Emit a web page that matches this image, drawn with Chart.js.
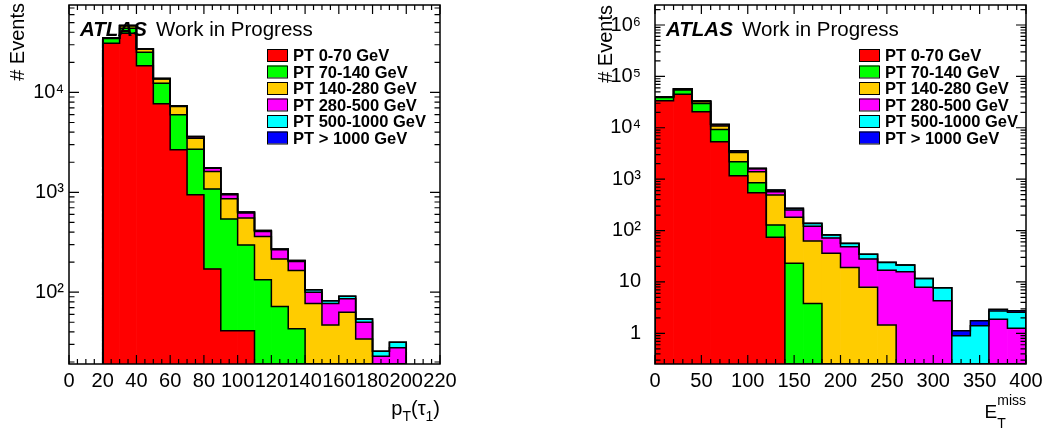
<!DOCTYPE html>
<html lang="en">
<head>
<meta charset="UTF-8">
<title>Tau pT and MET by sample</title>
<style>
  body { margin: 0; background: #fff; }
  .wrap { position: relative; width: 1046px; height: 430px; }
  canvas { position: absolute; top: 0; }
  #ptChart { left: 0; }
  #metChart { left: 523px; }
</style>
</head>
<body>
<div class="wrap">
  <canvas id="ptChart" width="523" height="430"></canvas>
  <canvas id="metChart" width="523" height="430"></canvas>
</div>
<script src="https://cdn.jsdelivr.net/npm/chart.js"></script>
<script>
// samples (pT slices) and their fill colours
const samples = ['PT 0-70 GeV', 'PT 70-140 GeV', 'PT 140-280 GeV', 'PT 280-500 GeV', 'PT 500-1000 GeV', 'PT > 1000 GeV'];
const sampleColors = ['#ff0000', '#00ff00', '#ffcc00', '#ff00ff', '#00ffff', '#0000ff'];

// leading tau pT, 10 GeV bins from 20 to 200
const tauEdges = [20, 30, 40, 50, 60, 70, 80, 90, 100, 110, 120, 130, 140, 150, 160, 170, 180, 190, 200];
const tauPt0to70     = [31000, 39000, 18500, 7680, 2660, 944, 171, 41, 41, 0, 0, 0, 0, 0, 0, 0, 0, 0];
const tauPt70to140   = [3600, 5000, 6700, 4700, 3300, 1760, 906, 499, 256, 133, 72, 43, 0, 0, 0, 0, 0, 0];
const tauPt140to280  = [300, 2500, 2000, 1250, 1250, 780, 538, 321, 255, 229, 143, 122, 77, 47, 63, 34, 0, 0];
const tauPt280to500  = [50, 300, 200, 150, 120, 110, 130, 83, 67, 44, 51, 38, 23, 30, 23, 16, 22.8, 27.7];
const tauPt500to1000 = [10, 50, 30, 20, 15, 15, 15, 22, 15, 9, 4, 5, 6, 5, 5, 4, 2.8, 3.8];
const tauPtAbove1000 = [2, 5, 3, 2, 2, 1, 1, 0, 0, 0, 0, 0, 0, 0, 0, 0, 0, 0];

// missing ET, 20 GeV bins from 0 to 400
const metEdges = [0, 20, 40, 60, 80, 100, 120, 140, 160, 180, 200, 220, 240, 260, 280, 300, 320, 340, 360, 380, 400];
const met0to70     = [33500, 44700, 20500, 5350, 1164, 543, 74, 0, 0, 0, 0, 0, 0, 0, 0, 0, 0, 0, 0, 0];
const met70to140   = [5500, 9400, 9300, 3950, 1016, 308, 54, 23, 3.8, 0, 0, 0, 0, 0, 0, 0, 0, 0, 0, 0];
const met140to280  = [1200, 2800, 2300, 1500, 1140, 542, 363, 158, 59, 36, 19.2, 7.9, 1.45, 0, 0, 0, 0, 0, 0, 0];
const met280to500  = [150, 400, 900, 750, 230, 210, 78, 70, 59, 36, 29.2, 20, 15.5, 15.8, 7.85, 4.3, 0, 0, 1.87, 1.25];
const met500to1000 = [20, 50, 80, 50, 20, 18, 42, 19, 16, 10, 7.6, 6.6, 7, 5.5, 3.85, 3.4, 0.9, 1.41, 0.85, 1.31];
const metAbove1000 = [2, 5, 5, 4, 2, 1, 3, 2, 1, 0.5, 0.3, 0, 0.2, 0, 0, 0, 0.22, 0.35, 0.21, 0.19];

// axis ranges
const tauXRange = [0, 220], tauYRange = [19.1, 75000];
const metXRange = [0, 400], metYRange = [0.253, 2.45e6];

const FONT = "'Liberation Sans', Arial, Helvetica, sans-serif";
Chart.defaults.font.family = FONT;
Chart.defaults.color = '#000';

const SUP = { '2': '\u00b2', '3': '\u00b3', '4': '\u2074', '5': '\u2075', '6': '\u2076' };
function logLabel(v) {
  const e = Math.round(Math.log10(v));
  if (Math.abs(v - Math.pow(10, e)) > 1e-6 * v) return '';
  if (e === 0) return '1';
  if (e === 1) return '10';
  return '10' + SUP[e];
}

// step outline of the cumulative sum of the first k+1 layers
function outline(edges, layers, k, floor) {
  const pts = [{ x: edges[0], y: floor }];
  for (let i = 0; i < edges.length - 1; i++) {
    let s = 0;
    for (let j = 0; j <= k; j++) s += layers[j][i];
    const y = s > 0 ? s : floor;
    pts.push({ x: edges[i], y: y }, { x: edges[i + 1], y: y });
  }
  pts.push({ x: edges[edges.length - 1], y: floor });
  return pts;
}

function buildDatasets(edges, layers, floor) {
  const centers = edges.slice(0, -1).map((e, i) => (e + edges[i + 1]) / 2);
  const ds = [];
  layers.forEach((vals, k) => {
    ds.push({
      type: 'line',
      data: outline(edges, layers, k, floor),
      borderColor: '#000',
      borderWidth: 1.5,
      pointRadius: 0,
      fill: false,
      tension: 0,
      order: 1,
      stack: 'outline' + k
    });
  });
  layers.forEach((vals, k) => {
    ds.push({
      type: 'bar',
      label: samples[k],
      data: centers.map((c, i) => ({ x: c, y: vals[i] })),
      backgroundColor: sampleColors[k],
      borderWidth: 0,
      barPercentage: 1,
      categoryPercentage: 1,
      order: 2,
      stack: 'mc'
    });
  });
  return ds;
}

// axis titles, drawn as pieces so sub/superscripts sit right
const titleParts = {
  tau: [['p', 20, 0, true], ['T', 14, 6, true], ['(\u03c4', 20, 0, true], ['1', 14, 6, true], [')', 20, 0, true]],
  met: [['E', 19, 0, true], ['T', 14, 10, false], ['miss', 14, -13, true]]
};

const rootFrame = {
  id: 'rootFrame',
  afterDraw(chart, args, o) {
    const { ctx, chartArea: a, scales: { x, y } } = chart;
    ctx.save();

    // frame
    ctx.strokeStyle = '#000';
    ctx.lineWidth = 1.5;
    ctx.strokeRect(a.left, a.top, a.right - a.left, a.bottom - a.top);

    // inward ticks on all four sides
    ctx.lineWidth = 1.2;
    ctx.beginPath();
    for (let v = x.min; v <= x.max + 1e-9; v += o.xMinor) {
      const px = x.getPixelForValue(v);
      const r = v / o.xMajor;
      const len = Math.abs(r - Math.round(r)) < 1e-6 ? 9 : 5;
      ctx.moveTo(px, a.bottom); ctx.lineTo(px, a.bottom - len);
      ctx.moveTo(px, a.top); ctx.lineTo(px, a.top + len);
    }
    for (let e = Math.floor(Math.log10(y.min)); e <= Math.ceil(Math.log10(y.max)); e++) {
      for (let m = 1; m < 10; m++) {
        const v = m * Math.pow(10, e);
        if (v < y.min || v > y.max) continue;
        const py = y.getPixelForValue(v);
        const len = m === 1 ? 10 : 5.5;
        ctx.moveTo(a.left, py); ctx.lineTo(a.left + len, py);
        ctx.moveTo(a.right, py); ctx.lineTo(a.right - len, py);
      }
    }
    ctx.stroke();

    // ATLAS label
    ctx.fillStyle = '#000';
    ctx.textBaseline = 'alphabetic';
    ctx.textAlign = 'left';
    ctx.font = 'italic bold 20.5px ' + FONT;
    ctx.fillText('ATLAS', o.atlasX, o.atlasY);
    ctx.font = '20.5px ' + FONT;
    ctx.fillText('Work in Progress', o.atlasX + 76, o.atlasY);

    // legend
    ctx.font = 'bold 16.5px ' + FONT;
    samples.forEach((s, k) => {
      const cy = o.legendTop + k * o.legendStep;
      ctx.fillStyle = sampleColors[k];
      ctx.fillRect(o.legendBoxX, cy - 6, 20, 12);
      ctx.lineWidth = 1;
      ctx.strokeStyle = '#000';
      ctx.strokeRect(o.legendBoxX + 0.5, cy - 5.5, 20, 12);
      ctx.fillStyle = '#000';
      ctx.fillText(s, o.legendTextX, cy + 6);
    });

    // y title
    ctx.save();
    ctx.translate(o.yTitleX, o.yTitleEnd);
    ctx.rotate(-Math.PI / 2);
    ctx.textAlign = 'right';
    ctx.font = '20px ' + FONT;
    ctx.fillText('# Events', 0, 0);
    ctx.restore();

    // x title, right aligned to the frame
    const parts = titleParts[o.xTitle];
    let total = 0;
    parts.forEach(p => {
      ctx.font = p[1] + 'px ' + FONT;
      if (p[3]) total += ctx.measureText(p[0]).width;
    });
    let cx = a.right - total;
    parts.forEach(p => {
      ctx.font = p[1] + 'px ' + FONT;
      ctx.fillText(p[0], cx, o.xTitleY + p[2]);
      if (p[3]) cx += ctx.measureText(p[0]).width;
    });

    ctx.restore();
  }
};

function makeChart(id, edges, layers, xRange, yRange, xStep, yWidth, padRight, yPad, frameOpts) {
  return new Chart(document.getElementById(id), {
    type: 'bar',
    data: { datasets: buildDatasets(edges, layers, yRange[0]) },
    options: {
      responsive: false,
      animation: false,
      devicePixelRatio: 1,
      layout: { padding: { left: 0, right: padRight, top: 5, bottom: 0 } },
      plugins: {
        legend: { display: false },
        tooltip: { enabled: false },
        rootFrame: frameOpts
      },
      scales: {
        x: {
          type: 'linear',
          min: xRange[0],
          max: xRange[1],
          offset: false,
          stacked: true,
          grid: { display: false, drawTicks: false, offset: false },
          border: { display: false },
          ticks: { stepSize: xStep, padding: 5, maxRotation: 0, autoSkip: false, font: { size: 20 } },
          afterFit(s) { s.height = 66; s.paddingLeft = 0; s.paddingRight = 0; }
        },
        y: {
          type: 'logarithmic',
          min: yRange[0],
          max: yRange[1],
          stacked: true,
          grid: { display: false, drawTicks: false },
          border: { display: false },
          ticks: { padding: yPad, autoSkip: false, font: { size: 20 }, callback: logLabel },
          // the frame edges are fixed; label overhang must not shrink the plot
          afterFit(s) { s.width = yWidth; s.paddingTop = 0; s.paddingBottom = 0; }
        }
      }
    },
    plugins: [rootFrame]
  });
}

makeChart('ptChart', tauEdges,
  [tauPt0to70, tauPt70to140, tauPt140to280, tauPt280to500, tauPt500to1000, tauPtAbove1000],
  tauXRange, tauYRange, 20, 69, 83, 5,
  { xMajor: 20, xMinor: 5, atlasX: 80, atlasY: 36, legendBoxX: 267, legendTextX: 293,
    legendTop: 55, legendStep: 16.5, yTitleX: 24, yTitleEnd: 3, xTitle: 'tau', xTitleY: 415 });

makeChart('metChart', metEdges,
  [met0to70, met70to140, met140to280, met280to500, met500to1000, metAbove1000],
  metXRange, metYRange, 50, 132, 20, 14,
  { xMajor: 50, xMinor: 10, atlasX: 143, atlasY: 36, legendBoxX: 336, legendTextX: 362,
    legendTop: 55, legendStep: 16.5, yTitleX: 89, yTitleEnd: 5, xTitle: 'met', xTitleY: 418 });
</script>
</body>
</html>
